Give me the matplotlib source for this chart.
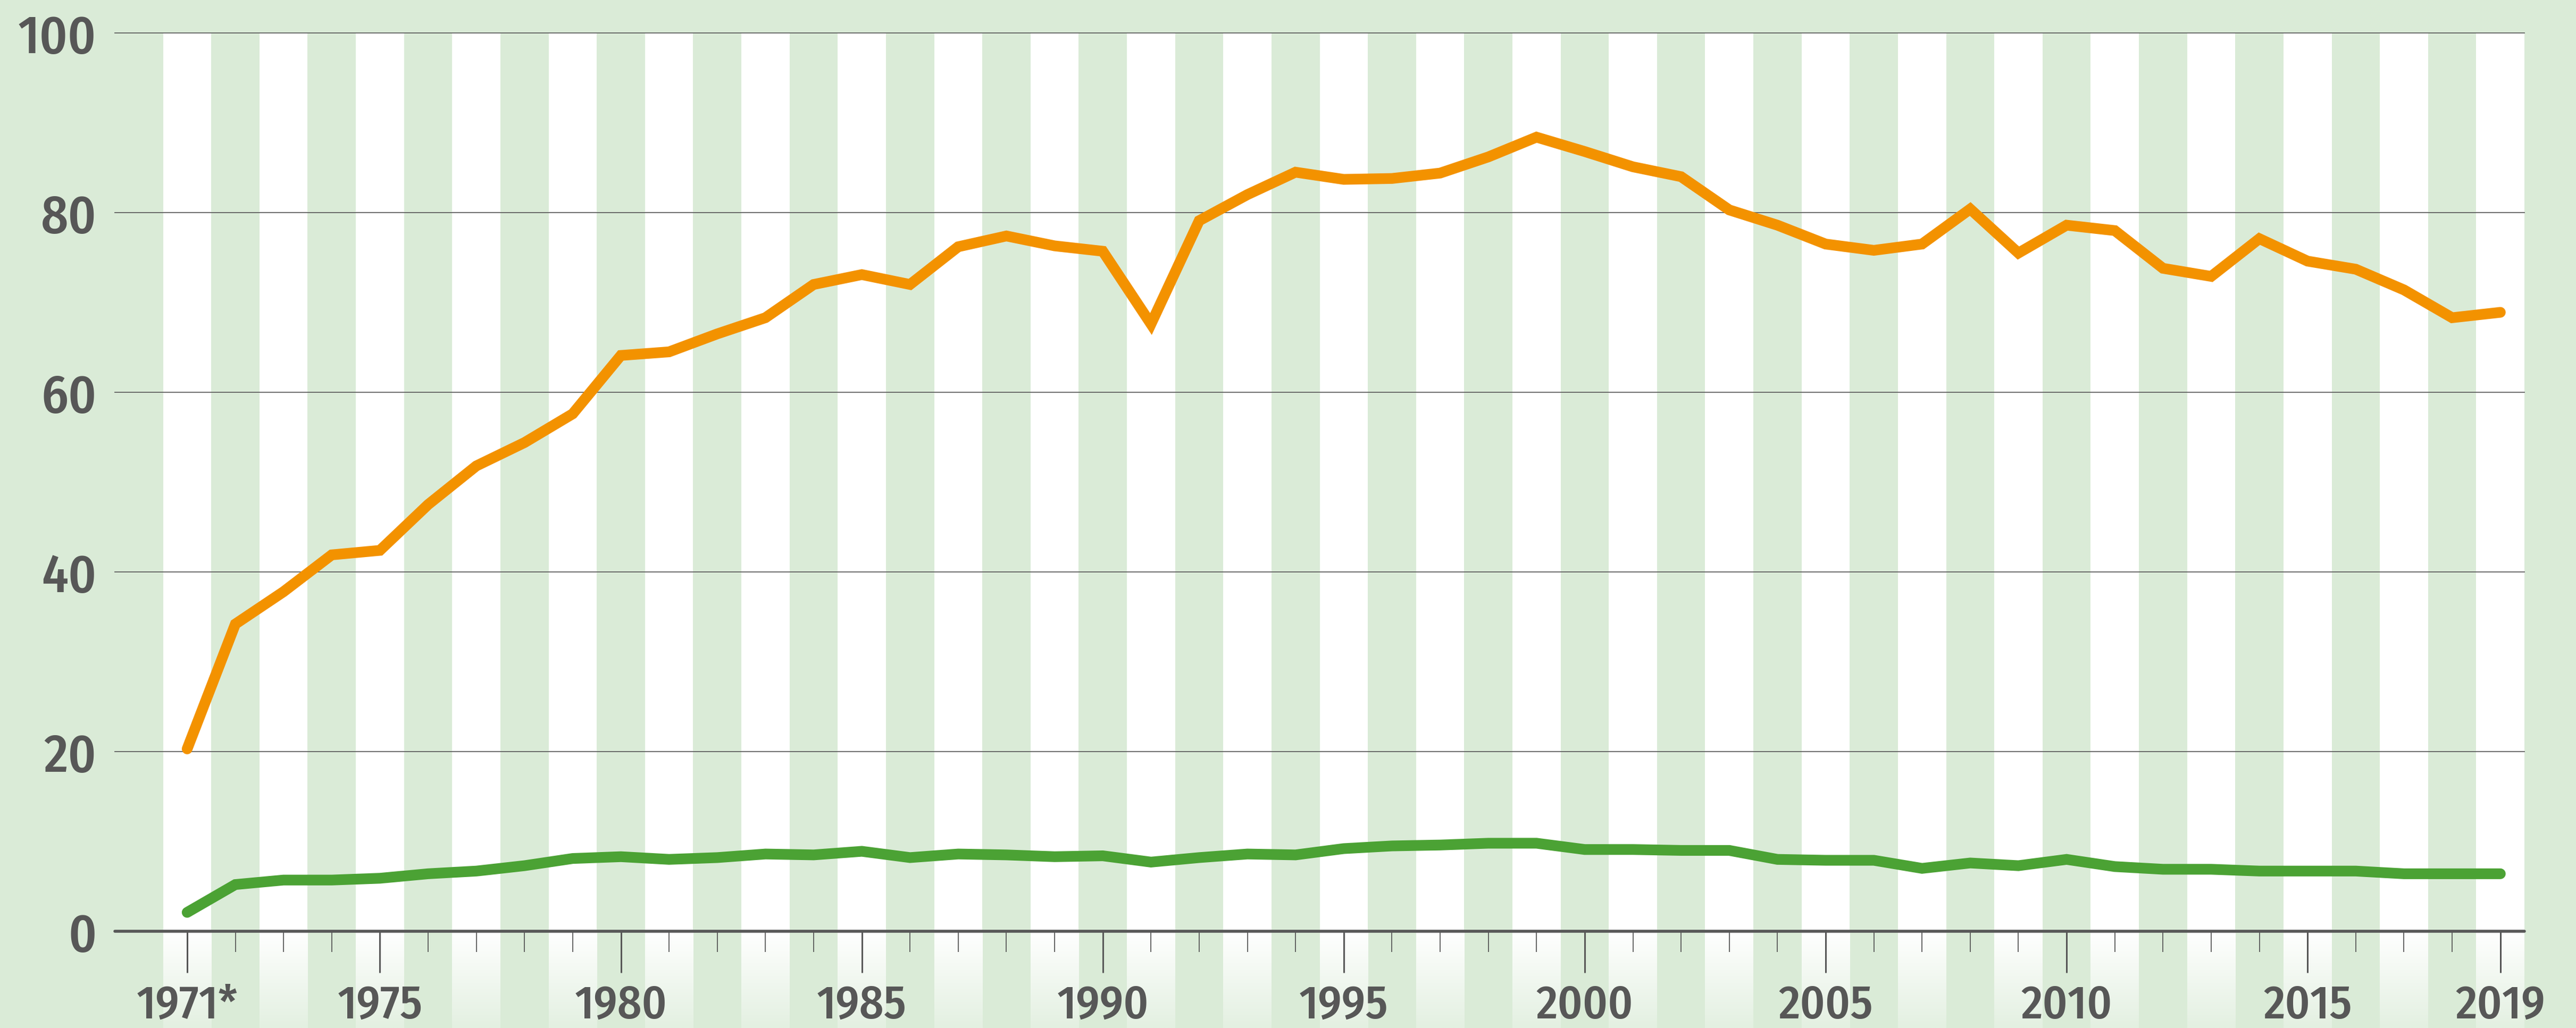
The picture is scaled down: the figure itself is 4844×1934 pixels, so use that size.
import numpy as np
import matplotlib
matplotlib.use("Agg")
import matplotlib.pyplot as plt

years = list(range(1971, 2020))
orange_values = [20.3, 34.2, 37.8, 41.9, 42.4, 47.5, 51.8, 54.4, 57.6, 64.1,
                 64.5, 66.5, 68.3, 72.0, 73.1, 72.0, 76.2, 77.4, 76.3, 75.7,
                 67.6, 79.1, 82.0, 84.5, 83.7, 83.8, 84.4, 86.2, 88.4, 86.8,
                 85.1, 84.0, 80.3, 78.6, 76.5, 75.8, 76.5, 80.4, 75.5, 78.6,
                 78.0, 73.8, 72.9, 77.1, 74.6, 73.7, 71.4, 68.3, 68.9]
green_values = [2.1, 5.2, 5.7, 5.7, 5.9, 6.4, 6.7, 7.3, 8.1, 8.3,
                8.0, 8.2, 8.6, 8.5, 8.9, 8.2, 8.6, 8.5, 8.3, 8.4,
                7.7, 8.2, 8.6, 8.5, 9.2, 9.5, 9.6, 9.8, 9.8, 9.1,
                9.1, 9.0, 9.0, 8.0, 7.9, 7.9, 7.0, 7.6, 7.3, 8.0,
                7.2, 6.9, 6.9, 6.7, 6.7, 6.7, 6.4, 6.4, 6.4]
major_ticks = [1971, 1975, 1980, 1985, 1990, 1995, 2000, 2005, 2010, 2015, 2019]
major_labels = ['1971*', '1975', '1980', '1985', '1990', '1995', '2000',
                '2005', '2010', '2015', '2019']
y_ticks = [0, 20, 40, 60, 80, 100]

BG = '#DAEBD7'
TXT = '#575757'
ORANGE = '#F39200'
GREEN = '#4BA234'

plt.rcParams['font.family'] = ['Fira Sans Condensed', 'Liberation Sans', 'DejaVu Sans']
plt.rcParams['font.weight'] = 500

fig = plt.figure(figsize=(48.44, 19.34), dpi=100, facecolor=BG)
ax = fig.add_axes([216/4844, 1 - 1752/1934, (4747-216)/4844, (1752-62)/1934])
ax.set_facecolor(BG)

x0, x1 = years[0] - 1.5, years[-1] + 0.5

# white stripes for every other year
below = 182 / 16.9
grad = np.linspace(0, 1, 100)[:, None]
bgc = np.array(matplotlib.colors.to_rgb(BG))
img = np.ones((100, 1, 3)) * (1 - 0.75 * grad[..., None]) + bgc * (0.75 * grad[..., None])
for i, yr in enumerate(years):
    if i % 2 == 0:
        ax.axvspan(yr - 0.5, yr + 0.5, color='white', lw=0, zorder=0)
        ax.imshow(img, extent=(yr - 0.5, yr + 0.5, -below, 0), aspect='auto',
                  clip_on=False, zorder=0, interpolation='bilinear')
ax.set_xlim(x0, x1)
ax.set_ylim(0, 100)

for v in y_ticks[1:]:
    ax.axhline(v, color='#5f5f5f', lw=1.3, zorder=1, clip_on=False)
ax.axhline(0, color='#575757', lw=4.0, zorder=4, clip_on=False, solid_capstyle='round')

ax.plot(years, green_values, color=GREEN, lw=14.5, solid_joinstyle='miter',
        solid_capstyle='round', zorder=3)
ax.plot(years, orange_values, color=ORANGE, lw=14.5, solid_joinstyle='miter',
        solid_capstyle='round', zorder=3)

for s in ax.spines.values():
    s.set_visible(False)

ax.set_xticks(major_ticks)
ax.set_xticklabels(major_labels)
ax.set_xticks(years, minor=True)
ax.tick_params(axis='x', which='major', length=56, width=2.2, color=TXT,
               labelsize=64, labelcolor=TXT, pad=14)
ax.tick_params(axis='x', which='minor', length=28, width=1.3, color=TXT)
ax.set_yticks(y_ticks)
ax.set_yticklabels([str(v) for v in y_ticks])
ax.tick_params(axis='y', length=0, labelsize=72, labelcolor=TXT, pad=25)

fig.savefig('out.png', dpi=100, facecolor=BG)
